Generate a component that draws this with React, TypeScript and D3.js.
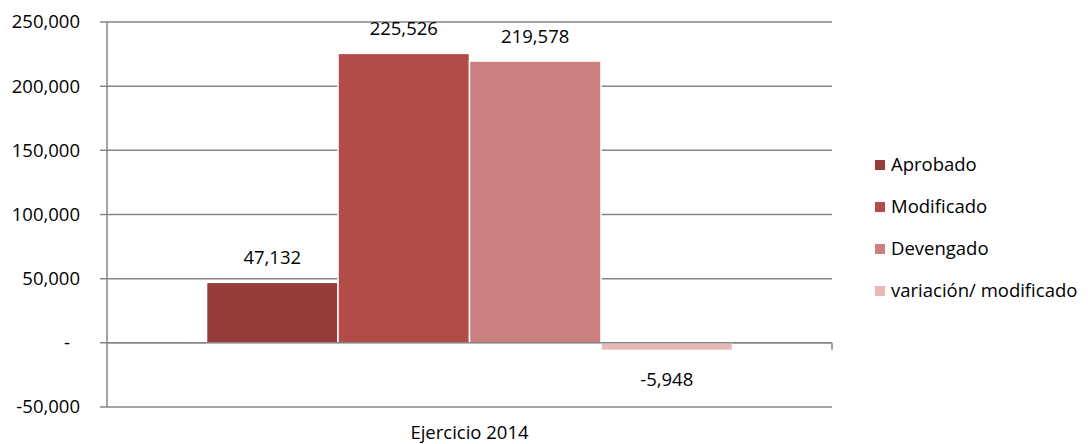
import * as d3 from 'd3'

const WIDTH = 1088
const HEIGHT = 444
const FONT = '"Open Sans", sans-serif'
const FS = 18.5

const category = 'Ejercicio 2014'
const seriesNames = ['Aprobado', 'Modificado', 'Devengado', 'variación/ modificado']
const seriesValues = [47132, 225526, 219578, -5948]
const seriesColors = ['#963c3b', '#b34b48', '#cb7e7e', '#e6b9b8']
const yTicks = [-50000, 0, 50000, 100000, 150000, 200000, 250000]

const PLOT = { left: 107, right: 832, top: 22, bottom: 407 }

// excel-style: hyphen minus, dash for zero
const fmt = (v: number) => d3.format(',')(v).replace('\u2212', '-')
const tickLabel = (v: number) => (v === 0 ? '-' : fmt(v))

export default function App() {
  const y = d3.scaleLinear([-50000, 250000], [PLOT.bottom, PLOT.top])
  const x0 = d3.scaleBand([category], [PLOT.left, PLOT.right])
  const x1 = d3
    .scaleBand(seriesNames, [x0(category)!, x0(category)! + x0.bandwidth()])
    .paddingInner(0)
    .paddingOuter(0.757)

  return (
    <svg
      width={WIDTH}
      height={HEIGHT}
      style={{ display: 'block', margin: '-8px -8px 0 -8px' }}
      fontFamily={FONT}
    >
      {/* gridlines + y ticks */}
      {yTicks.map((t) => (
        <g key={t}>
          <line x1={PLOT.left - 7} x2={PLOT.right} y1={y(t)} y2={y(t)} stroke="#868686" strokeWidth={1.5} />
          <text x={PLOT.left - (t === 0 ? 37 : 27)} y={y(t)} dy="0.35em" textAnchor="end" fontSize={FS} fill="#000">
            {tickLabel(t)}
          </text>
        </g>
      ))}
      {/* bars */}
      {seriesNames.map((s, i) => {
        const v = seriesValues[i]
        const top = Math.min(y(v), y(0))
        const h = Math.abs(y(v) - y(0))
        return (
          <rect key={s} x={x1(s)} y={top} width={x1.bandwidth()} height={h} fill={seriesColors[i]} stroke="#fff" strokeWidth={1.5} />
        )
      })}
      {/* value axis and category axis */}
      <line x1={PLOT.left} x2={PLOT.left} y1={PLOT.top} y2={PLOT.bottom} stroke="#868686" strokeWidth={1.5} />
      <line x1={PLOT.left} x2={PLOT.right} y1={y(0)} y2={y(0)} stroke="#868686" strokeWidth={1.5} />
      <line x1={PLOT.right} x2={PLOT.right} y1={y(0)} y2={y(0) + 7} stroke="#868686" strokeWidth={1.5} />
      {/* data labels */}
      {seriesNames.map((s, i) => {
        const v = seriesValues[i]
        const cx = x1(s)! + x1.bandwidth() / 2
        const ly = v >= 0 ? y(v) - 18 : y(v) + 36
        return (
          <text key={s} x={cx} y={ly} textAnchor="middle" fontSize={FS} fill="#000">
            {fmt(v)}
          </text>
        )
      })}
      {/* category label */}
      <text x={x0(category)! + x0.bandwidth() / 2} y={439} textAnchor="middle" fontSize={FS} fill="#000">
        {category}
      </text>
      {/* legend */}
      {seriesNames.map((s, i) => (
        <g key={s} transform={`translate(875,${165 + i * 42})`}>
          <rect x={0} y={-5} width={10} height={10} fill={seriesColors[i]} />
          <text x={16} y={0} dy="0.35em" fontSize={FS} fill="#000">
            {s}
          </text>
        </g>
      ))}
    </svg>
  )
}
